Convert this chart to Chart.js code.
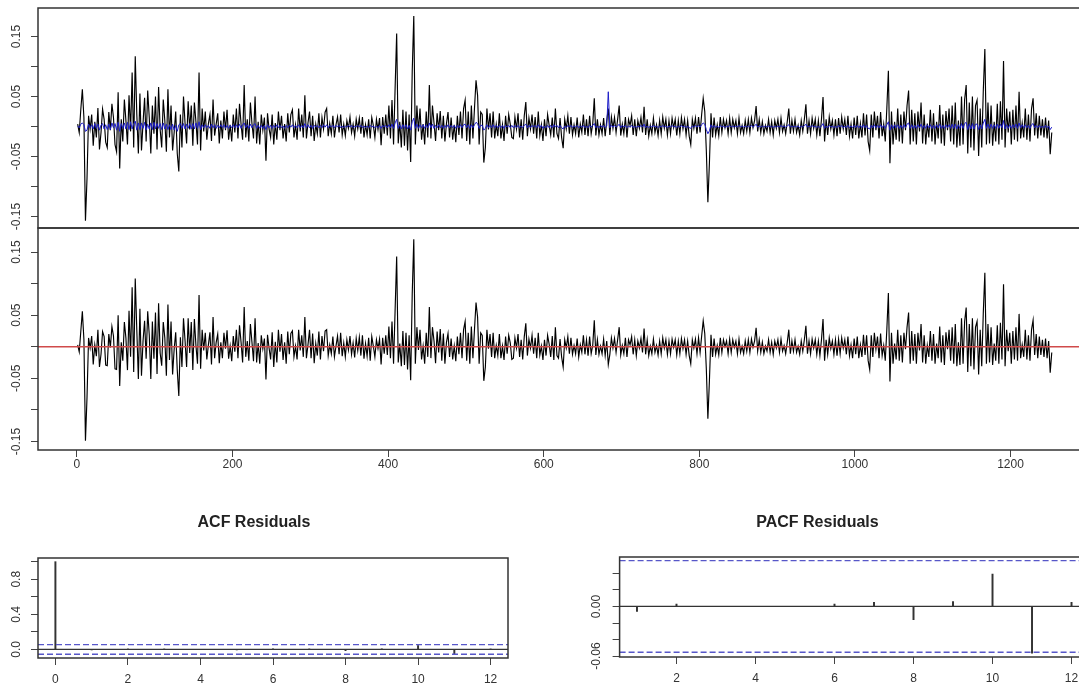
<!DOCTYPE html>
<html>
<head>
<meta charset="utf-8">
<title>Residual diagnostics</title>
<script src="https://cdn.jsdelivr.net/npm/chart.js@4.4.1/dist/chart.umd.min.js"></script>
<style>
  html, body { margin: 0; padding: 0; background: #fff; overflow: hidden; }
  #page { position: relative; width: 1079px; height: 688px; overflow: hidden; background: #fff; }
  canvas { position: absolute; }
</style>
</head>
<body>
<div id="page">
  <canvas id="seriesChart" width="1100" height="236" style="left:0;top:0"></canvas>
  <canvas id="residChart" width="1100" height="258" style="left:0;top:220px"></canvas>
  <canvas id="acfChart" width="546" height="188" style="left:0;top:500px"></canvas>
  <canvas id="pacfChart" width="616" height="188" style="left:546px;top:500px"></canvas>
</div>
<script>
// daily returns, every second observation (t = 1, 3, 5, ...)
const returns = [
  0.004, -0.010, 0.028, 0.062, 0.015, -0.157, -0.086, 0.018, -0.004, 0.020,
  -0.032, 0.008, -0.018, 0.031, -0.038, -0.010, 0.029, 0.012, -0.026, -0.035,
  0.024, -0.006, 0.038, 0.015, -0.030, -0.042, 0.057, -0.070, 0.012, -0.025,
  0.045, 0.010, -0.030, 0.052, -0.008, 0.090, -0.035, 0.117, 0.020, -0.045,
  0.055, -0.040, 0.006, 0.048, -0.025, 0.060, 0.015, -0.045, 0.035, -0.012,
  0.050, -0.038, 0.066, -0.005, -0.035, 0.045, 0.010, -0.042, 0.062, -0.018,
  0.035, -0.040, -0.010, 0.025, -0.045, -0.075, 0.020, -0.035, 0.050, 0.006,
  -0.028, 0.042, -0.005, 0.035, -0.032, 0.040, 0.008, -0.030, 0.090, -0.040,
  0.030, -0.008, 0.025, -0.022, 0.005, 0.020, -0.024, 0.045, -0.015, 0.004,
  0.022, -0.028, 0.010, -0.020, 0.025, -0.006, 0.028, -0.022, 0.003, -0.025,
  0.020, -0.010, 0.030, -0.020, 0.038, 0.004, -0.022, 0.069, -0.018, 0.012,
  -0.025, 0.040, 0.005, -0.020, 0.050, -0.028, 0.008, -0.030, 0.020, -0.006,
  0.015, -0.057, 0.022, -0.004, -0.018, 0.020, -0.030, 0.006, -0.022, 0.025,
  -0.006, 0.018, -0.020, 0.004, -0.025, 0.022, -0.010, 0.020, 0.028, -0.018,
  0.003, -0.022, 0.030, -0.008, 0.020, -0.018, 0.052, -0.020, 0.006, 0.025,
  -0.016, 0.018, -0.024, 0.004, -0.012, 0.022, -0.018, 0.015, -0.004, 0.024,
  0.030, -0.016, 0.005, -0.012, 0.018, -0.018, 0.003, 0.016, -0.010, 0.020,
  -0.014, 0.004, -0.015, 0.010, -0.003, 0.016, -0.010, 0.004, -0.016, 0.012,
  -0.004, 0.014, -0.012, 0.016, -0.018, 0.003, -0.014, 0.012, -0.020, 0.015,
  0.002, -0.018, 0.012, -0.005, 0.014, -0.031, 0.016, -0.012, 0.020, -0.015,
  0.035, -0.020, 0.044, -0.030, 0.064, 0.155, -0.028, 0.008, -0.035, 0.028,
  -0.032, 0.025, -0.040, 0.020, -0.059, 0.092, 0.184, -0.030, 0.035, -0.008,
  0.030, -0.022, 0.004, -0.030, 0.025, -0.018, 0.069, -0.020, 0.035, 0.006,
  -0.024, 0.022, -0.006, 0.026, -0.020, 0.018, -0.025, 0.005, 0.024, -0.018,
  0.015, -0.022, 0.003, -0.026, 0.018, -0.014, 0.025, -0.020, 0.030, 0.044,
  -0.024, 0.025, -0.030, 0.035, -0.020, 0.030, 0.077, 0.052, -0.030, 0.024,
  0.020, -0.060, -0.035, 0.030, -0.005, 0.022, -0.018, 0.025, -0.020, 0.004,
  -0.016, 0.022, -0.020, 0.003, -0.024, 0.018, -0.012, 0.020, 0.004, -0.018,
  -0.020, 0.016, -0.004, 0.022, -0.018, 0.012, -0.022, 0.018, 0.041, -0.016,
  0.014, -0.004, 0.020, -0.012, 0.016, -0.020, 0.025, -0.015, 0.003, -0.024,
  0.012, -0.016, 0.020, 0.002, -0.014, 0.015, -0.018, 0.030, -0.012, -0.020,
  0.014, -0.018, -0.036, 0.012, -0.004, 0.018, -0.012, 0.016, -0.014, 0.003,
  -0.012, 0.015, -0.018, 0.004, -0.010, 0.020, -0.014, 0.012, -0.016, 0.018,
  -0.012, 0.004, 0.047, -0.015, 0.012, -0.014, 0.003, -0.012, 0.014, -0.016,
  0.010, 0.030, -0.014, 0.016, -0.003, 0.015, -0.010, 0.012, 0.035, -0.015,
  0.004, -0.012, 0.016, -0.018, 0.012, 0.002, 0.018, -0.014, 0.012, -0.016,
  0.010, -0.003, 0.015, -0.010, 0.033, -0.014, 0.012, -0.016, 0.002, -0.012,
  0.014, -0.010, 0.003, -0.015, 0.010, -0.012, 0.016, -0.003, 0.012, -0.014,
  0.010, -0.012, 0.014, -0.002, 0.012, -0.015, 0.010, -0.012, 0.015, -0.004,
  0.012, -0.014, 0.010, -0.016, -0.030, 0.012, -0.003, 0.014, -0.012, 0.016,
  -0.010, 0.020, 0.047, 0.025, -0.040, -0.126, -0.060, 0.022, -0.018, 0.015,
  -0.014, 0.003, -0.015, 0.016, -0.010, 0.012, -0.002, 0.010, -0.012, 0.014,
  -0.010, 0.012, -0.002, 0.010, -0.012, 0.014, -0.010, 0.002, -0.012, 0.010,
  -0.008, 0.012, -0.010, 0.014, -0.002, 0.010, 0.034, -0.008, 0.012, -0.010,
  0.008, -0.012, 0.002, -0.008, 0.012, -0.010, 0.008, -0.014, 0.010, -0.003,
  0.012, -0.010, 0.014, -0.008, 0.003, -0.012, 0.008, 0.030, -0.012, 0.010,
  -0.008, 0.012, -0.010, 0.002, -0.014, 0.010, -0.008, 0.012, 0.037, -0.012,
  0.010, -0.012, 0.014, -0.003, 0.012, -0.014, 0.010, -0.016, 0.012, 0.049,
  -0.025, 0.012, -0.014, 0.016, -0.004, 0.010, -0.014, 0.012, -0.016, 0.014,
  -0.012, 0.016, -0.004, 0.012, -0.014, 0.018, -0.016, 0.004, -0.020, 0.015,
  -0.014, 0.018, -0.020, 0.005, -0.018, 0.022, -0.015, 0.020, -0.025, -0.040,
  0.020, -0.018, 0.025, -0.006, 0.018, -0.020, 0.024, -0.016, 0.004, -0.025,
  0.030, 0.093, -0.061, 0.025, -0.030, 0.008, -0.022, 0.030, -0.025, 0.020,
  -0.028, 0.025, -0.006, 0.035, 0.060, -0.030, 0.028, -0.025, 0.022, -0.030,
  0.025, -0.008, 0.040, -0.028, 0.020, -0.030, 0.005, -0.018, 0.028, -0.025,
  0.022, -0.030, 0.008, -0.020, 0.036, -0.028, 0.020, -0.032, 0.026, -0.006,
  0.030, -0.025, 0.035, -0.030, 0.040, -0.035, 0.010, -0.032, 0.050, -0.030,
  0.045, 0.069, -0.045, 0.040, -0.035, 0.050, -0.040, 0.035, 0.044, -0.049,
  0.030, -0.035, 0.060, 0.129, -0.030, 0.040, -0.028, 0.035, -0.032, 0.008,
  -0.025, 0.038, -0.030, 0.042, -0.022, 0.109, -0.035, 0.030, -0.010, 0.025,
  -0.030, 0.028, -0.022, 0.035, -0.025, 0.058, -0.020, 0.006, -0.018, 0.030,
  -0.022, 0.020, -0.025, 0.030, 0.047, -0.015, 0.022, -0.020, 0.018, -0.015,
  0.012, -0.018, 0.015, -0.020, 0.010, -0.046, -0.010
];

// fitted values of the mean model at the same time points
const fitted = [
  0.001, -0.002, 0.004, 0.006, 0.003, -0.008, -0.006, 0.004, -0.002, 0.003,
  -0.004, 0.005, -0.003, 0.004, -0.006, 0.002, 0.005, -0.004, 0.003, -0.005,
  0.004, -0.005, 0.006, -0.002, 0.005, -0.006, 0.007, -0.008, 0.005, -0.003,
  0.006, -0.004, 0.007, -0.005, 0.008, -0.004, 0.005, 0.009, -0.006, 0.006,
  -0.005, 0.006, -0.003, 0.007, -0.006, 0.004, -0.004, 0.006, -0.005, 0.007,
  -0.004, 0.005, -0.003, 0.005, -0.005, 0.006, -0.004, 0.004, -0.005, 0.003,
  -0.005, 0.004, -0.006, 0.002, -0.008, 0.003, 0.005, -0.003, 0.005, -0.004,
  0.004, -0.003, 0.005, -0.004, 0.005, -0.004, 0.006, -0.003, 0.008, -0.005,
  0.003, -0.002, 0.003, -0.002, 0.002, -0.003, 0.004, -0.002, 0.003, -0.003,
  0.002, -0.002, 0.003, -0.002, 0.003, -0.003, 0.002, -0.003, 0.002, -0.002,
  0.003, -0.002, 0.003, -0.002, 0.004, -0.003, 0.003, 0.006, -0.002, 0.003,
  -0.003, 0.004, -0.002, 0.003, 0.005, -0.003, 0.002, -0.003, 0.002, -0.003,
  0.002, -0.005, 0.003, -0.002, 0.002, -0.003, 0.002, -0.002, 0.003, -0.002,
  0.002, -0.002, 0.001, -0.003, 0.002, -0.002, 0.002, -0.001, 0.003, -0.002,
  0.002, -0.002, 0.003, -0.002, 0.002, -0.002, 0.005, -0.002, 0.003, -0.002,
  0.002, -0.003, 0.002, -0.001, 0.002, -0.002, 0.002, -0.002, 0.003, -0.001,
  0.003, -0.002, 0.002, -0.001, 0.002, -0.002, 0.002, -0.001, 0.002, -0.002,
  0.001, -0.002, 0.001, -0.001, 0.002, -0.001, 0.002, -0.002, 0.001, -0.001,
  0.002, -0.001, 0.002, -0.002, 0.001, -0.002, 0.001, -0.002, 0.002, -0.001,
  0.001, -0.002, 0.001, -0.002, 0.002, -0.003, 0.002, -0.001, 0.002, -0.002,
  0.003, -0.002, 0.004, -0.003, 0.006, 0.012, -0.003, 0.003, -0.004, 0.003,
  -0.003, 0.003, -0.004, 0.002, -0.006, 0.008, 0.014, -0.003, 0.004, -0.003,
  0.003, -0.002, 0.003, -0.003, 0.003, -0.002, 0.006, -0.002, 0.004, -0.003,
  0.002, -0.002, 0.003, -0.002, 0.002, -0.003, 0.002, -0.002, 0.003, -0.002,
  0.002, -0.002, 0.002, -0.003, 0.002, -0.002, 0.003, -0.002, 0.003, 0.004,
  -0.002, 0.003, -0.003, 0.003, -0.002, 0.003, 0.007, 0.005, -0.003, 0.002,
  0.002, -0.006, -0.003, 0.003, -0.002, 0.002, -0.002, 0.003, -0.002, 0.002,
  -0.002, 0.002, -0.002, 0.002, -0.003, 0.002, -0.001, 0.002, -0.002, 0.002,
  -0.002, 0.002, -0.002, 0.002, -0.002, 0.001, -0.002, 0.002, 0.004, -0.002,
  0.002, -0.002, 0.002, -0.001, 0.002, -0.002, 0.003, -0.002, 0.002, -0.003,
  0.001, -0.002, 0.002, -0.002, 0.002, -0.002, 0.003, -0.001, 0.002, -0.002,
  0.002, -0.002, -0.004, 0.001, -0.002, 0.002, -0.001, 0.002, -0.002, 0.001,
  -0.001, 0.002, -0.002, 0.001, -0.001, 0.002, -0.002, 0.001, -0.002, 0.002,
  -0.001, 0.002, 0.005, -0.002, 0.001, -0.002, 0.002, -0.001, 0.002, -0.002,
  0.001, 0.058, -0.002, 0.002, -0.001, 0.002, -0.001, 0.001, 0.004, -0.002,
  0.002, -0.001, 0.002, -0.002, 0.001, -0.001, 0.002, -0.002, 0.001, -0.002,
  0.001, -0.001, 0.002, -0.001, 0.004, -0.002, 0.001, -0.002, 0.001, -0.001,
  0.002, -0.001, 0.001, -0.002, 0.001, -0.001, 0.002, -0.001, 0.001, -0.002,
  0.001, -0.001, 0.002, -0.001, 0.001, -0.002, 0.001, -0.001, 0.002, -0.001,
  0.001, -0.002, 0.001, -0.002, -0.003, 0.001, -0.001, 0.002, -0.001, 0.002,
  -0.001, 0.003, 0.006, 0.004, -0.005, -0.012, -0.007, 0.003, -0.002, 0.002,
  -0.002, 0.001, -0.002, 0.002, -0.001, 0.001, -0.002, 0.001, -0.001, 0.002,
  -0.001, 0.001, -0.001, 0.001, -0.001, 0.002, -0.001, 0.001, -0.001, 0.001,
  -0.001, 0.001, -0.001, 0.002, -0.001, 0.001, 0.004, -0.001, 0.001, -0.001,
  0.001, -0.001, 0.001, -0.001, 0.001, -0.001, 0.001, -0.002, 0.001, -0.001,
  0.001, -0.001, 0.002, -0.001, 0.001, -0.001, 0.001, 0.003, -0.001, 0.001,
  -0.001, 0.001, -0.001, 0.001, -0.002, 0.001, -0.001, 0.001, 0.004, -0.001,
  0.001, -0.001, 0.002, -0.001, 0.001, -0.002, 0.001, -0.002, 0.001, 0.005,
  -0.003, 0.001, -0.002, 0.002, -0.001, 0.001, -0.002, 0.001, -0.002, 0.002,
  -0.001, 0.002, -0.002, 0.001, -0.002, 0.002, -0.002, 0.001, -0.002, 0.002,
  -0.002, 0.002, -0.002, 0.002, -0.002, 0.003, -0.002, 0.002, -0.003, -0.004,
  0.002, -0.002, 0.003, -0.002, 0.002, -0.002, 0.003, -0.002, 0.002, -0.003,
  0.003, 0.008, -0.006, 0.003, -0.003, 0.003, -0.002, 0.003, -0.003, 0.002,
  -0.003, 0.003, -0.002, 0.004, 0.006, -0.003, 0.003, -0.003, 0.002, -0.003,
  0.003, -0.002, 0.004, -0.003, 0.002, -0.003, 0.003, -0.002, 0.003, -0.003,
  0.002, -0.003, 0.003, -0.002, 0.004, -0.003, 0.002, -0.003, 0.003, -0.002,
  0.003, -0.003, 0.004, -0.003, 0.004, -0.004, 0.003, -0.003, 0.005, -0.003,
  0.005, 0.007, -0.005, 0.004, -0.004, 0.005, -0.004, 0.004, 0.004, -0.005,
  0.003, -0.004, 0.006, 0.012, -0.003, 0.004, -0.003, 0.004, -0.003, 0.003,
  -0.003, 0.004, -0.003, 0.004, -0.002, 0.010, -0.004, 0.003, -0.003, 0.003,
  -0.003, 0.003, -0.002, 0.004, -0.003, 0.006, -0.002, 0.003, -0.002, 0.003,
  -0.002, 0.002, -0.003, 0.003, 0.005, -0.002, 0.002, -0.002, 0.002, -0.002,
  0.001, -0.002, 0.002, -0.002, 0.001, -0.005, -0.001
];

const timeIndex = returns.map((_, i) => 1 + 2 * i);
const residuals = returns.map((r, i) => +(r - fitted[i]).toFixed(4));

// correlograms of the residuals
const acfLags = [0, 1, 2, 3, 4, 5, 6, 7, 8, 9, 10, 11, 12];
const acfValues = [1, -0.006, 0.003, 0.001, 0.000, -0.001, 0.003, 0.006, -0.014, 0.007, 0.045, -0.050, 0.005];
const pacfLags = [1, 2, 3, 4, 5, 6, 7, 8, 9, 10, 11, 12];
const pacfValues = [-0.006, 0.003, 0.000, 0.000, 0.000, 0.003, 0.005, -0.016, 0.006, 0.039, -0.0566, 0.005];
const ciBound = 0.0554;

// axis ticks and the labels R kept
const seriesTicks = [-0.15, -0.10, -0.05, 0, 0.05, 0.10, 0.15];
const seriesTickLabels = ['-0.15', '', '-0.05', '', '0.05', '', '0.15'];
const timeTicks = [0, 200, 400, 600, 800, 1000, 1200];
const acfYTicks = [0, 0.2, 0.4, 0.6, 0.8, 1.0];
const acfYLabels = ['0.0', '', '0.4', '', '0.8', ''];
const pacfYTicks = [-0.06, -0.04, -0.02, 0, 0.02, 0.04];
const pacfYLabels = ['-0.06', '', '', '0.00', '', ''];
const lagTicks = [0, 2, 4, 6, 8, 10, 12];
const pacfLagTicks = [2, 4, 6, 8, 10, 12];

Chart.defaults.font.family = '"Liberation Sans", Arial, Helvetica, sans-serif';
Chart.defaults.font.size = 12;
Chart.defaults.color = '#333';

const framePlugin = {
  id: 'frame',
  afterDatasetsDraw(chart) {
    const { ctx, chartArea: a } = chart;
    ctx.save();
    ctx.strokeStyle = '#333';
    ctx.lineWidth = 1.5;
    ctx.strokeRect(a.left, a.top, a.right - a.left, a.bottom - a.top);
    ctx.restore();
  }
};

function yAxis(min, max, ticks, labels, pad, width) {
  return {
    type: 'linear', position: 'left', min, max,
    afterBuildTicks: axis => { axis.ticks = ticks.map(v => ({ value: v })); },
    afterFit: axis => { axis.width = width; },
    ticks: {
      callback: (v, i) => labels[i],
      autoSkip: false, minRotation: 90, maxRotation: 90,
      crossAlign: 'center', padding: pad, color: '#333'
    },
    grid: { drawOnChartArea: false, drawTicks: true, tickLength: 7, color: '#444' },
    border: { display: false }
  };
}

function xAxis(min, max, ticks, pad, height) {
  return {
    type: 'linear', position: 'bottom', min, max, offset: false,
    afterBuildTicks: axis => { axis.ticks = ticks.map(v => ({ value: v })); },
    afterFit: axis => { axis.height = height; },
    ticks: { callback: v => String(v), autoSkip: false, maxRotation: 0, padding: pad, color: '#333' },
    grid: { drawOnChartArea: false, drawTicks: true, tickLength: 7, color: '#444', offset: false },
    border: { display: false }
  };
}

const common = {
  responsive: false,
  animation: false,
  devicePixelRatio: 1,
  events: [],
  elements: { point: { radius: 0 }, line: { tension: 0, fill: false } },
  plugins: { legend: { display: false }, tooltip: { enabled: false } }
};

const pts = (xs, ys) => xs.map((x, i) => ({ x, y: ys[i] }));
const flat = (x0, x1, y) => [{ x: x0, y }, { x: x1, y }];
const T_MIN = -50, T_MAX = 1306;

// returns with the fitted values drawn over them
new Chart(document.getElementById('seriesChart'), {
  type: 'line',
  data: {
    datasets: [
      { data: pts(timeIndex, fitted), borderColor: '#1d1dc9', borderWidth: 1, order: 0 },
      { data: pts(timeIndex, returns), borderColor: '#000', borderWidth: 1.15, order: 1 }
    ]
  },
  options: {
    ...common,
    layout: { autoPadding: false, padding: { top: 8, bottom: 8, left: 0, right: 7 } },
    scales: {
      x: { type: 'linear', min: T_MIN, max: T_MAX, display: false },
      y: yAxis(-0.169, 0.1975, seriesTicks, seriesTickLabels, 0.5, 38)
    }
  },
  plugins: [framePlugin]
});

// residuals with the zero line
new Chart(document.getElementById('residChart'), {
  type: 'line',
  data: {
    datasets: [
      { data: flat(T_MIN, T_MAX, 0), borderColor: '#d04a4a', borderWidth: 1.6, order: 0 },
      { data: pts(timeIndex, residuals), borderColor: '#000', borderWidth: 1.15, order: 1 }
    ]
  },
  options: {
    ...common,
    layout: { autoPadding: false, padding: { top: 8, bottom: 0, left: 0, right: 7 } },
    scales: {
      x: xAxis(T_MIN, T_MAX, timeTicks, 0, 28),
      y: yAxis(-0.1635, 0.188, seriesTicks, seriesTickLabels, 0.5, 38)
    }
  },
  plugins: [framePlugin]
});

function correlogram(id, lags, values, xMin, xMax, xTicks, yMin, yMax, yTicks, yLabels, yPad, yWidth, padRight, titleText, titleBottom, xHeight) {
  return new Chart(document.getElementById(id), {
    type: 'bar',
    data: {
      datasets: [
        { type: 'line', data: flat(xMin, xMax, ciBound), borderColor: '#5757c9', borderWidth: 1.4, borderDash: [6, 3], order: 0 },
        { type: 'line', data: flat(xMin, xMax, -ciBound), borderColor: '#5757c9', borderWidth: 1.4, borderDash: [6, 3], order: 0 },
        { type: 'line', data: flat(xMin, xMax, 0), borderColor: '#333333', borderWidth: 1.2, order: 1 },
        { type: 'bar', data: pts(lags, values), backgroundColor: '#333', barThickness: 1.3, order: 2 }
      ]
    },
    options: {
      ...common,
      layout: { autoPadding: false, padding: { top: 0, bottom: 0, left: 0, right: padRight } },
      plugins: {
        ...common.plugins,
        title: {
          display: true, text: titleText, color: '#222',
          font: { size: 16, weight: 'bold' },
          padding: { top: 13.4, bottom: titleBottom }
        }
      },
      scales: {
        x: xAxis(xMin, xMax, xTicks, 7, xHeight),
        y: yAxis(yMin, yMax, yTicks, yLabels, yPad, yWidth)
      }
    },
    plugins: [framePlugin]
  });
}

correlogram('acfChart', acfLags, acfValues, -0.48, 12.48, lagTicks,
  -0.0975, 1.042, acfYTicks, acfYLabels, 5.6, 38, 38, 'ACF Residuals', 25.4, 30);

correlogram('pacfChart', pacfLags, pacfValues, 0.56, 12.44, pacfLagTicks,
  -0.0611, 0.0598, pacfYTicks, pacfYLabels, 2.4, 73.6, 73.1, 'PACF Residuals', 24.4, 31);
</script>
</body>
</html>
